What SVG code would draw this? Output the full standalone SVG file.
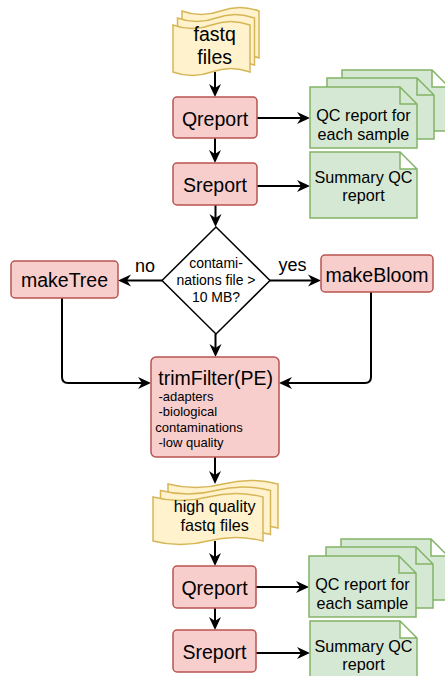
<svg xmlns="http://www.w3.org/2000/svg" width="445" height="676" viewBox="0 0 445 676">
<style>
.proc{fill:#f8cecc;stroke:#b85450;stroke-width:1.5}
.doc{fill:#d5e8d4;stroke:#82b366;stroke-width:1.5}
.tape{fill:#fff2cc;stroke:#d6b656;stroke-width:1.5}
.dec{fill:#ffffff;stroke:#000000;stroke-width:1.5}
.edge{fill:none;stroke:#000000;stroke-width:2}
text{font-family:"Liberation Sans",Arial,sans-serif;fill:#000000}
.big{font-size:19.5px;text-anchor:middle}
.mid{font-size:16.2px;text-anchor:middle}
.dt{font-size:14px;text-anchor:middle}
.lbl{font-size:18px;text-anchor:middle}
.sm{font-size:13px}
</style>
<defs>
<marker id="arr" viewBox="-14 -7 15 14" markerWidth="15" markerHeight="14" refX="-8" refY="0" orient="auto" markerUnits="userSpaceOnUse">
<path d="M0,0 L-13,-6 L-9,0 L-13,6 Z" fill="#000000"/>
</marker>
<path id="note" d="M0,0 L90,0 L107,17 L107,61 L0,61 Z M90,0 L90,17 L107,17"/>
<path id="note66" d="M0,0 L90,0 L107,17 L107,66 L0,66 Z M90,0 L90,17 L107,17"/>
</defs>

<g id="connectors">
<path class="edge" marker-end="url(#arr)" d="M215,72 V89"/>
<path class="edge" marker-end="url(#arr)" d="M215,138 V155"/>
<path class="edge" marker-end="url(#arr)" d="M215.5,205 V219"/>
<path class="edge" marker-end="url(#arr)" d="M257,118 H302"/>
<path class="edge" marker-end="url(#arr)" d="M257,186 H302"/>
<path class="edge" marker-end="url(#arr)" d="M162,280.5 H126"/>
<path class="edge" marker-end="url(#arr)" d="M270,280.5 H313"/>
<path class="edge" marker-end="url(#arr)" d="M215.5,334 V349"/>
<path class="edge" marker-end="url(#arr)" d="M62,298 V377 Q62,383 68,383 H143"/>
<path class="edge" marker-end="url(#arr)" d="M371,292 V377 Q371,383 365,383 H287"/>
<path class="edge" marker-end="url(#arr)" d="M215,457 V476"/>
<path class="edge" marker-end="url(#arr)" d="M215,541 V558"/>
<path class="edge" marker-end="url(#arr)" d="M215,608 V622"/>
<path class="edge" marker-end="url(#arr)" d="M256,587 H301"/>
<path class="edge" marker-end="url(#arr)" d="M256,653 H302"/>
<text class="lbl" x="145" y="272">no</text>
<text class="lbl" x="292.5" y="271">yes</text>
</g>

<g id="fastq">
<path class="tape" d="M182,11 Q201.25,18.2 220.5,11 Q239.75,3.8 259,11 L259,58 Q239.75,50.8 220.5,58 Q201.25,65.2 182,58 Z"/>
<path class="tape" d="M177.5,18 Q196.75,25.2 216,18 Q235.25,10.8 254.5,18 L254.5,65 Q235.25,57.8 216,65 Q196.75,72.2 177.5,65 Z"/>
<path class="tape" d="M173,25 Q192.25,32.2 211.5,25 Q230.75,17.8 250,25 L250,72 Q230.75,64.8 211.5,72 Q192.25,79.2 173,72 Z"/>
<text class="big" x="214.7" y="40.5">fastq</text>
<text class="big" x="214.7" y="63.5">files</text>
</g>

<g id="qreport1">
<rect class="proc" x="173" y="97" width="84" height="41" rx="4"/>
<text class="big" x="215" y="125.5">Qreport</text>
</g>

<g id="sreport1">
<rect class="proc" x="173" y="163" width="84" height="42" rx="4"/>
<text class="big" x="215" y="192">Sreport</text>
</g>

<g id="qc1">
<use href="#note" class="doc" transform="translate(342,70)"/>
<use href="#note" class="doc" transform="translate(327,78)"/>
<use href="#note" class="doc" transform="translate(310,87)"/>
<text class="mid" x="363.5" y="121">QC report for</text>
<text class="mid" x="363.5" y="139.5">each sample</text>
</g>

<g id="summary1">
<use href="#note66" class="doc" transform="translate(310,152)"/>
<text class="mid" x="363.5" y="182.5">Summary QC</text>
<text class="mid" x="363.5" y="201">report</text>
</g>

<g id="decision">
<polygon class="dec" points="216,227 270,280.5 216,334 162,280.5"/>
<text class="dt" x="216" y="268">contami-</text>
<text class="dt" x="216" y="285">nations file &gt;</text>
<text class="dt" x="216" y="302">10 MB?</text>
</g>

<g id="maketree">
<rect class="proc" x="11" y="261" width="107" height="37" rx="4"/>
<text class="big" x="64.5" y="287">makeTree</text>
</g>

<g id="makebloom">
<rect class="proc" x="321" y="255" width="112" height="37" rx="4"/>
<text class="big" x="377" y="281.5">makeBloom</text>
</g>

<g id="trimfilter">
<rect class="proc" x="151" y="357" width="128" height="100" rx="5"/>
<text class="big" x="215.7" y="384.5">trimFilter(PE)</text>
<text class="sm" x="158.5" y="400.7">-adapters</text>
<text class="sm" x="158.5" y="416">-biological</text>
<text class="sm" x="155.3" y="431.7">contaminations</text>
<text class="sm" x="158.5" y="447.3">-low quality</text>
</g>

<g id="hqfastq">
<path class="tape" d="M168,484 Q195.5,491.2 223,484 Q250.5,476.8 278,484 L278,528 Q250.5,520.8 223,528 Q195.5,535.2 168,528 Z"/>
<path class="tape" d="M160.5,490.5 Q188,497.7 215.5,490.5 Q243,483.3 270.5,490.5 L270.5,534.5 Q243,527.3 215.5,534.5 Q188,541.7 160.5,534.5 Z"/>
<path class="tape" d="M153,497 Q180.5,504.2 208,497 Q235.5,489.8 263,497 L263,541 Q235.5,533.8 208,541 Q180.5,548.2 153,541 Z"/>
<text class="mid" x="214.7" y="512.3">high quality</text>
<text class="mid" x="214.7" y="531.3">fastq files</text>
</g>

<g id="qreport2">
<rect class="proc" x="173" y="566" width="83" height="42" rx="4"/>
<text class="big" x="214.5" y="594.5">Qreport</text>
</g>

<g id="sreport2">
<rect class="proc" x="173" y="630" width="83" height="42" rx="4"/>
<text class="big" x="214.5" y="658.5">Sreport</text>
</g>

<g id="qc2">
<use href="#note" class="doc" transform="translate(341,539)"/>
<use href="#note" class="doc" transform="translate(326,547)"/>
<use href="#note" class="doc" transform="translate(309,556)"/>
<text class="mid" x="362.5" y="590">QC report for</text>
<text class="mid" x="362.5" y="608.5">each sample</text>
</g>

<g id="summary2">
<use href="#note66" class="doc" transform="translate(310,621)"/>
<text class="mid" x="363.5" y="651.5">Summary QC</text>
<text class="mid" x="363.5" y="670">report</text>
</g>
</svg>
